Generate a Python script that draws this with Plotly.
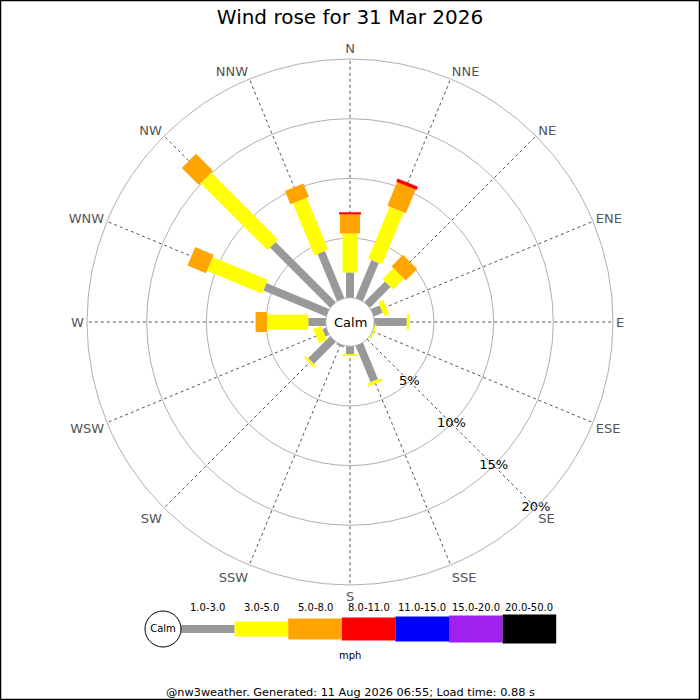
import plotly.graph_objects as go

# wind directions, 16 points
directions = ["N", "NNE", "NE", "ENE", "E", "ESE", "SE", "SSE",
              "S", "SSW", "SW", "WSW", "W", "WNW", "NW", "NNW"]

# speed bins (mph) and their colours
speed_bins = ["1.0-3.0", "3.0-5.0", "5.0-8.0", "8.0-11.0",
              "11.0-15.0", "15.0-20.0", "20.0-50.0"]
bin_colors = ["#999999", "#ffff00", "#ffa500", "#ff0000",
              "#0000ff", "#a020f0", "#000000"]

# frequency (%) per direction for each speed bin
freq_1_3 = [2.11, 3.46, 2.45, 0.80, 2.73, 0.00, 0.00, 3.30,
            0.68, 0.15, 2.60, 0.35, 1.47, 5.69, 7.12, 4.28]
freq_3_5 = [3.27, 4.72, 1.29, 0.45, 0.22, 0.15, 0.00, 0.25,
            0.15, 0.00, 0.20, 0.70, 3.46, 5.00, 7.92, 4.71]
freq_5_8 = [1.60, 2.13, 1.35, 0.00, 0.00, 0.00, 0.00, 0.00,
            0.00, 0.00, 0.00, 0.00, 0.95, 1.66, 2.02, 1.20]
freq_8_11 = [0.19, 0.30, 0.00, 0.00, 0.00, 0.00, 0.00, 0.00,
             0.00, 0.00, 0.00, 0.00, 0.00, 0.00, 0.00, 0.00]
freq_11_15 = [0.0] * 16
freq_15_20 = [0.0] * 16
freq_20_50 = [0.0] * 16

radial_ticks = [5, 10, 15, 20]
radial_labels = ["5%", "10%", "15%", "20%"]

title_text = "Wind rose for 31 Mar 2026"
footer_text = "@nw3weather. Generated: 11 Aug 2026 06:55; Load time: 0.88 s"

all_bins = [freq_1_3, freq_3_5, freq_5_8, freq_8_11,
            freq_11_15, freq_15_20, freq_20_50]
bar_widths = [8, 15, 20, 22, 25, 27, 29]
legend_widths = [8, 15, 21, 23, 25, 27, 29]

W = H = 700
FONT = "DejaVu Sans"

fig = go.Figure()

# stacked rose bars drawn as thick radial line segments (constant pixel width)
base = [0.0] * len(directions)
for k, vals in enumerate(all_bins):
    rr, tt = [], []
    for i, v in enumerate(vals):
        if v > 0:
            rr += [base[i], base[i] + v, None]
            tt += [directions[i], directions[i], None]
        base[i] += v
    if not rr:
        continue
    fig.add_trace(go.Scatterpolar(
        r=rr, theta=tt, mode="lines", connectgaps=False,
        line=dict(color=bin_colors[k], width=bar_widths[k]),
        hoverinfo="skip", showlegend=False))

# radial percentage labels along the SE spoke
fig.add_trace(go.Scatterpolar(
    r=radial_ticks, theta=["SE"] * len(radial_ticks), mode="text",
    text=radial_labels, textfont=dict(family=FONT, size=13, color="#000"),
    hoverinfo="skip", showlegend=False))

fig.update_layout(
    width=W, height=H,
    margin=dict(l=0, r=0, t=0, b=0),
    paper_bgcolor="white", plot_bgcolor="white",
    font=dict(family=FONT),
    title=dict(text=title_text, x=0.5, xanchor="center", y=1 - 17 / H,
               yanchor="middle", font=dict(family=FONT, size=20, color="#000")),
    polar=dict(
        domain=dict(x=[87 / W, 613 / W], y=[1 - 585 / H, 1 - 59 / H]),
        bgcolor="white",
        hole=0.092,
        radialaxis=dict(range=[0, 20], tickvals=radial_ticks, showticklabels=False,
                        ticks="", showline=False, gridcolor="#b0b0b0", gridwidth=1,
                        angle=-45),
        angularaxis=dict(type="category", categoryarray=directions,
                         rotation=90, direction="clockwise",
                         showline=True, linecolor="#b0b0b0", linewidth=1,
                         gridcolor="#555555", griddash="dot", gridwidth=1,
                         ticks="", tickfont=dict(family=FONT, size=13, color="#555555")),
    ),
    xaxis=dict(domain=[0, 1], range=[0, W], visible=False, fixedrange=True),
    yaxis=dict(domain=[0, 1], range=[H, 0], visible=False, fixedrange=True),
)

# legend: bar strip under the rose
leg_x0, leg_step, leg_y = 181, 53.6, 629
for k, lab in enumerate(speed_bins):
    xa = leg_x0 + k * leg_step
    fig.add_trace(go.Scatter(
        x=[xa, xa + leg_step], y=[leg_y, leg_y], mode="lines",
        line=dict(color=bin_colors[k], width=legend_widths[k]),
        hoverinfo="skip", showlegend=False))
    fig.add_annotation(x=xa + leg_step / 2, y=607, xref="x", yref="y", text=lab,
                       showarrow=False, font=dict(family=FONT, size=10, color="#000"))

fig.add_trace(go.Scatter(
    x=[163], y=[leg_y], mode="markers+text", text=["Calm"],
    textposition="middle center", textfont=dict(family=FONT, size=10, color="#000"),
    marker=dict(size=36, color="white", line=dict(color="#000", width=1)),
    hoverinfo="skip", showlegend=False))

fig.add_annotation(x=350, y=655, xref="x", yref="y", text="mph", showarrow=False,
                   font=dict(family=FONT, size=10, color="#000"))

# calm label in the centre of the rose
fig.add_annotation(x=350, y=322, xref="x", yref="y", text="Calm", showarrow=False,
                   font=dict(family=FONT, size=13, color="#000"))

fig.add_annotation(x=350, y=692, xref="x", yref="y", text=footer_text, showarrow=False,
                   font=dict(family=FONT, size=11.3, color="#000"))

# border round the image
fig.add_shape(type="rect", xref="paper", yref="paper",
              x0=0.5 / W, x1=1 - 0.5 / W, y0=0.5 / H, y1=1 - 0.5 / H,
              line=dict(color="#000", width=1.5))

# drop the default page margin so the 700x700 figure fills the window
fig.write_html("out.html", config={"displayModeBar": False},
               post_script="document.body.style.margin='0px';")
